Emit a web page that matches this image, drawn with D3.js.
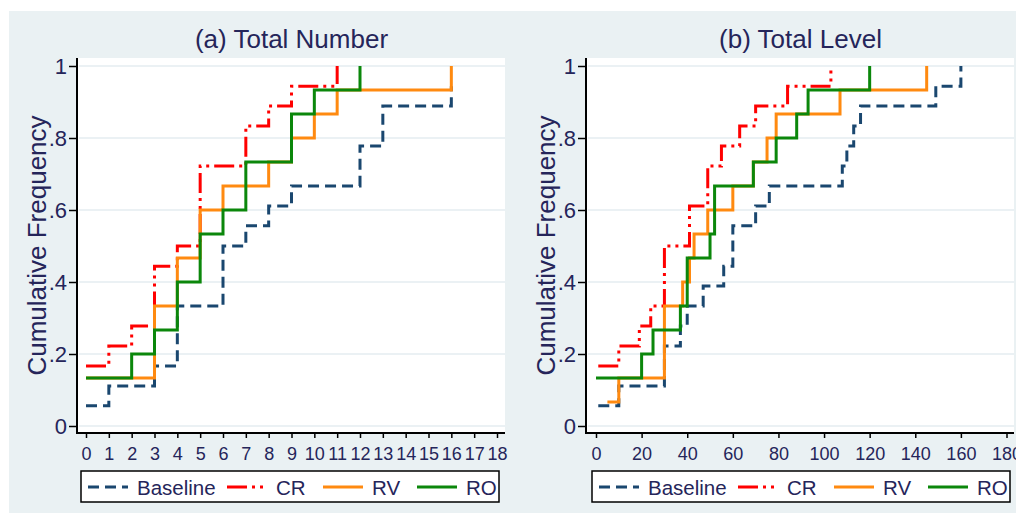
<!DOCTYPE html>
<html>
<head>
<meta charset="utf-8">
<script src="https://cdn.jsdelivr.net/npm/d3@7"></script>
<style>
  html, body { margin: 0; padding: 0; background: #ffffff; }
  svg { display: block; }
  text { font-family: "Liberation Sans", Arial, sans-serif; }
</style>
</head>
<body>
<div id="chart"></div>
<script>
// ---- data: cumulative frequency step points (x value, cumulative share) ----
const seriesNames = ["Baseline", "CR", "RV", "RO"];

const yTicks = [0, 0.2, 0.4, 0.6, 0.8, 1];
const yTickLabels = ["0", ".2", ".4", ".6", ".8", "1"];

// (a) Total Number
const numXTicks = [0, 1, 2, 3, 4, 5, 6, 7, 8, 9, 10, 11, 12, 13, 14, 15, 16, 17, 18];
const numBaselineX = [0, 1, 3, 4, 6, 7, 8, 9, 12, 13, 16];
const numBaselineY = [0.056, 0.111, 0.167, 0.333, 0.5, 0.556, 0.611, 0.667, 0.778, 0.889, 0.944];
const numCrX = [0, 1, 2, 3, 4, 5, 7, 8, 9, 11];
const numCrY = [0.167, 0.222, 0.278, 0.444, 0.5, 0.722, 0.833, 0.889, 0.944, 1];
const numRvX = [0, 3, 4, 5, 6, 8, 9, 10, 11, 16];
const numRvY = [0.133, 0.333, 0.467, 0.6, 0.667, 0.733, 0.8, 0.867, 0.933, 1];
const numRoX = [0, 2, 3, 4, 5, 6, 7, 9, 10, 12];
const numRoY = [0.133, 0.2, 0.267, 0.4, 0.533, 0.6, 0.733, 0.867, 0.933, 1];

// (b) Total Level
const lvlXTicks = [0, 20, 40, 60, 80, 100, 120, 140, 160, 180];
const lvlBaselineX = [1, 10, 30, 37, 40, 47, 56, 60, 70, 76, 108, 110, 113, 116, 149, 160];
const lvlBaselineY = [0.056, 0.111, 0.222, 0.278, 0.333, 0.389, 0.444, 0.556, 0.611, 0.667, 0.722, 0.778, 0.833, 0.889, 0.944, 1];
const lvlCrX = [1, 10, 19, 24, 30, 41, 49, 55, 63, 70, 84, 103];
const lvlCrY = [0.167, 0.222, 0.278, 0.333, 0.5, 0.611, 0.722, 0.778, 0.833, 0.889, 0.944, 1];
const lvlRvX = [5, 10, 30, 38, 41, 43, 49, 60, 69, 75, 79, 107, 145];
const lvlRvY = [0.067, 0.133, 0.333, 0.4, 0.467, 0.533, 0.6, 0.667, 0.733, 0.8, 0.867, 0.933, 1];
const lvlRoX = [0, 20, 25, 37, 40, 50, 52, 69, 79, 88, 93, 120];
const lvlRoY = [0.133, 0.2, 0.267, 0.333, 0.467, 0.533, 0.667, 0.733, 0.8, 0.867, 0.933, 1];

// ---- styling ----
const W = 1016, H = 515;
const textColor = "#25255a";
const styles = {
  Baseline: { color: "#1a476f", dash: "11,6" },
  CR:       { color: "#ff0000", dash: "20,5,3,5,3,5" },
  RV:       { color: "#ff8a10", dash: null },
  RO:       { color: "#0b870b", dash: null }
};

const zip = (xs, ys) => xs.map((x, i) => [x, ys[i]]);

const panels = [
  {
    title: "(a) Total Number",
    plotLeft: 78, plotRight: 505, xRange: [86, 497], xDomain: [0, 18],
    xTicks: numXTicks, yTitleX: 37, legendLeft: 81,
    series: {
      Baseline: zip(numBaselineX, numBaselineY),
      CR: zip(numCrX, numCrY),
      RV: zip(numRvX, numRvY),
      RO: zip(numRoX, numRoY)
    }
  },
  {
    title: "(b) Total Level",
    plotLeft: 587, plotRight: 1014, xRange: [596, 1006.5], xDomain: [0, 180],
    xTicks: lvlXTicks, yTitleX: 546, legendLeft: 592,
    series: {
      Baseline: zip(lvlBaselineX, lvlBaselineY),
      CR: zip(lvlCrX, lvlCrY),
      RV: zip(lvlRvX, lvlRvY),
      RO: zip(lvlRoX, lvlRoY)
    }
  }
];

const plotTop = 58, plotBottom = 433;
const y = d3.scaleLinear().domain([0, 1]).range([426, 66]);

const svg = d3.select("#chart").append("svg")
  .attr("width", W).attr("height", H);

// graph region background
svg.append("rect")
  .attr("x", 9).attr("y", 11).attr("width", W - 9).attr("height", 502)
  .attr("fill", "#eaf1f3");

panels.forEach(p => {
  const g = svg.append("g");
  const x = d3.scaleLinear().domain(p.xDomain).range(p.xRange);
  const cx = (p.plotLeft + p.plotRight) / 2;

  // plot region
  g.append("rect")
    .attr("x", p.plotLeft).attr("y", plotTop)
    .attr("width", p.plotRight - p.plotLeft).attr("height", plotBottom - plotTop)
    .attr("fill", "#ffffff");

  // horizontal grid
  g.selectAll("line.grid").data(yTicks).join("line")
    .attr("class", "grid")
    .attr("x1", p.plotLeft + 1).attr("x2", p.plotRight)
    .attr("y1", d => y(d)).attr("y2", d => y(d))
    .attr("stroke", "#e4edf0").attr("stroke-width", 1.5);

  // title
  g.append("text")
    .attr("x", cx).attr("y", 48)
    .attr("text-anchor", "middle")
    .attr("font-size", 26).attr("fill", textColor)
    .text(p.title);

  // y axis
  const yAxis = g.append("g")
    .attr("transform", `translate(${p.plotLeft - 1},0)`)
    .call(d3.axisLeft(y).tickValues(yTicks)
      .tickFormat((d, i) => yTickLabels[i])
      .tickSize(8).tickSizeOuter(0).tickPadding(2));
  yAxis.select(".domain").remove();
  yAxis.selectAll(".tick line").attr("stroke", "#000").attr("stroke-width", 1.5);
  yAxis.selectAll(".tick text")
    .attr("font-size", 22).attr("fill", textColor)
    .attr("font-family", "Liberation Sans, Arial, sans-serif");
  g.append("line")
    .attr("x1", p.plotLeft - 1).attr("x2", p.plotLeft - 1)
    .attr("y1", plotTop).attr("y2", plotBottom + 1)
    .attr("stroke", "#000").attr("stroke-width", 2);

  // y axis title
  g.append("text")
    .attr("transform", `translate(${p.yTitleX},${(plotTop + plotBottom) / 2}) rotate(-90)`)
    .attr("text-anchor", "middle").attr("dy", "0.35em")
    .attr("font-size", 26).attr("fill", textColor)
    .text("Cumulative Frequency");

  // x axis
  const xAxis = g.append("g")
    .attr("transform", `translate(0,${plotBottom})`)
    .call(d3.axisBottom(x).tickValues(p.xTicks)
      .tickSize(5).tickSizeOuter(0).tickPadding(9));
  xAxis.select(".domain").remove();
  xAxis.selectAll(".tick line").attr("stroke", "#000").attr("stroke-width", 1.5);
  xAxis.selectAll(".tick text")
    .attr("font-size", 18).attr("fill", textColor)
    .attr("font-family", "Liberation Sans, Arial, sans-serif");
  g.append("line")
    .attr("x1", p.plotLeft - 2).attr("x2", p.plotRight)
    .attr("y1", plotBottom).attr("y2", plotBottom)
    .attr("stroke", "#000").attr("stroke-width", 2);

  // step lines
  const line = d3.line()
    .x(d => x(d[0])).y(d => y(d[1]))
    .curve(d3.curveStepAfter);
  seriesNames.forEach(name => {
    const s = styles[name];
    g.append("path")
      .datum(p.series[name])
      .attr("d", line)
      .attr("fill", "none")
      .attr("stroke", s.color)
      .attr("stroke-width", 3)
      .attr("stroke-dasharray", s.dash)
      .attr("stroke-linejoin", "miter");
  });

  // legend
  const lg = g.append("g").attr("transform", `translate(${p.legendLeft},471)`);
  lg.append("rect")
    .attr("x", 0).attr("y", 0).attr("width", 418).attr("height", 31)
    .attr("fill", "#ffffff").attr("stroke", "#000").attr("stroke-width", 1.5);
  const itemX = [7, 146, 242, 336];
  seriesNames.forEach((name, i) => {
    const s = styles[name];
    lg.append("line")
      .attr("x1", itemX[i]).attr("x2", itemX[i] + 40)
      .attr("y1", 16).attr("y2", 16)
      .attr("stroke", s.color).attr("stroke-width", 3)
      .attr("stroke-dasharray", s.dash);
    lg.append("text")
      .attr("x", itemX[i] + 49).attr("y", 24)
      .attr("font-size", 20.5).attr("fill", textColor)
      .text(name);
  });
});
</script>
</body>
</html>
